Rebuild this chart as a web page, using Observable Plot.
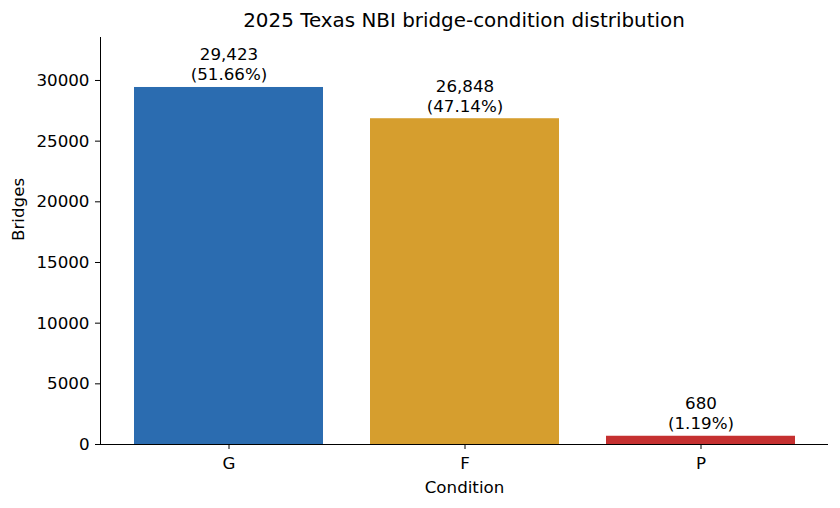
<!DOCTYPE html>
<html><head><meta charset="utf-8">
<script src="https://cdn.jsdelivr.net/npm/d3@7"></script>
<script src="https://cdn.jsdelivr.net/npm/@observablehq/plot@0.6"></script>
<style>
body{margin:0;background:#fff;font-family:"DejaVu Sans",sans-serif;}
#title{height:37px;box-sizing:border-box;padding-left:100px;padding-right:12px;text-align:center;font-size:19.9px;line-height:41px;color:#000;width:840px;}
</style></head>
<body>
<div id="title">2025 Texas NBI bridge-condition distribution</div>
<div id="chart"></div>
<script>
const categories = ["G", "F", "P"];
const counts = [29423, 26848, 680];
const colors = ["#2b6cb0", "#d69e2e", "#c53030"];
const yTicks = [0, 5000, 10000, 15000, 20000, 25000, 30000];

const total = d3.sum(counts);
const data = categories.map((c, i) => ({
  cat: c, n: counts[i], color: colors[i],
  label: d3.format(",")(counts[i]) + "\n(" + (counts[i] / total * 100).toFixed(2) + "%)"
}));

const FS = 16.7;
const chart = Plot.plot({
  width: 840, height: 471,
  marginLeft: 100, marginRight: 12, marginTop: 0, marginBottom: 64,
  style: {fontFamily: "DejaVu Sans, sans-serif", fontSize: FS + "px", color: "#000", background: "#fff"},
  x: {domain: categories, paddingInner: 0.2, paddingOuter: 0.139, label: null},
  y: {domain: [0, counts[0] * 1.14], label: null},
  color: {type: "identity"},
  marks: [
    Plot.barY(data, {x: "cat", y: "n", fill: "color"}),
    Plot.text(data, {x: "cat", y: "n", text: "label", dy: -7, lineAnchor: "bottom", lineHeight: 1.2, fontSize: FS, fill: "#000"}),
    Plot.axisY({ticks: yTicks, tickFormat: d => String(d), tickSize: 5, tickPadding: 6, fontSize: FS, label: null}),
    Plot.axisX({tickSize: 5, tickPadding: 8, fontSize: FS, label: null}),
    Plot.frame({anchor: "left", stroke: "#000"}),
    Plot.ruleY([0], {stroke: "#000"}),
    Plot.text(["Condition"], {frameAnchor: "bottom", dy: 48, fontSize: FS, fill: "#000"}),
    Plot.text(["Bridges"], {frameAnchor: "left", dx: -82, rotate: -90, fontSize: FS, fill: "#000"})
  ]
});
document.getElementById("chart").appendChild(chart);
</script>
</body></html>
